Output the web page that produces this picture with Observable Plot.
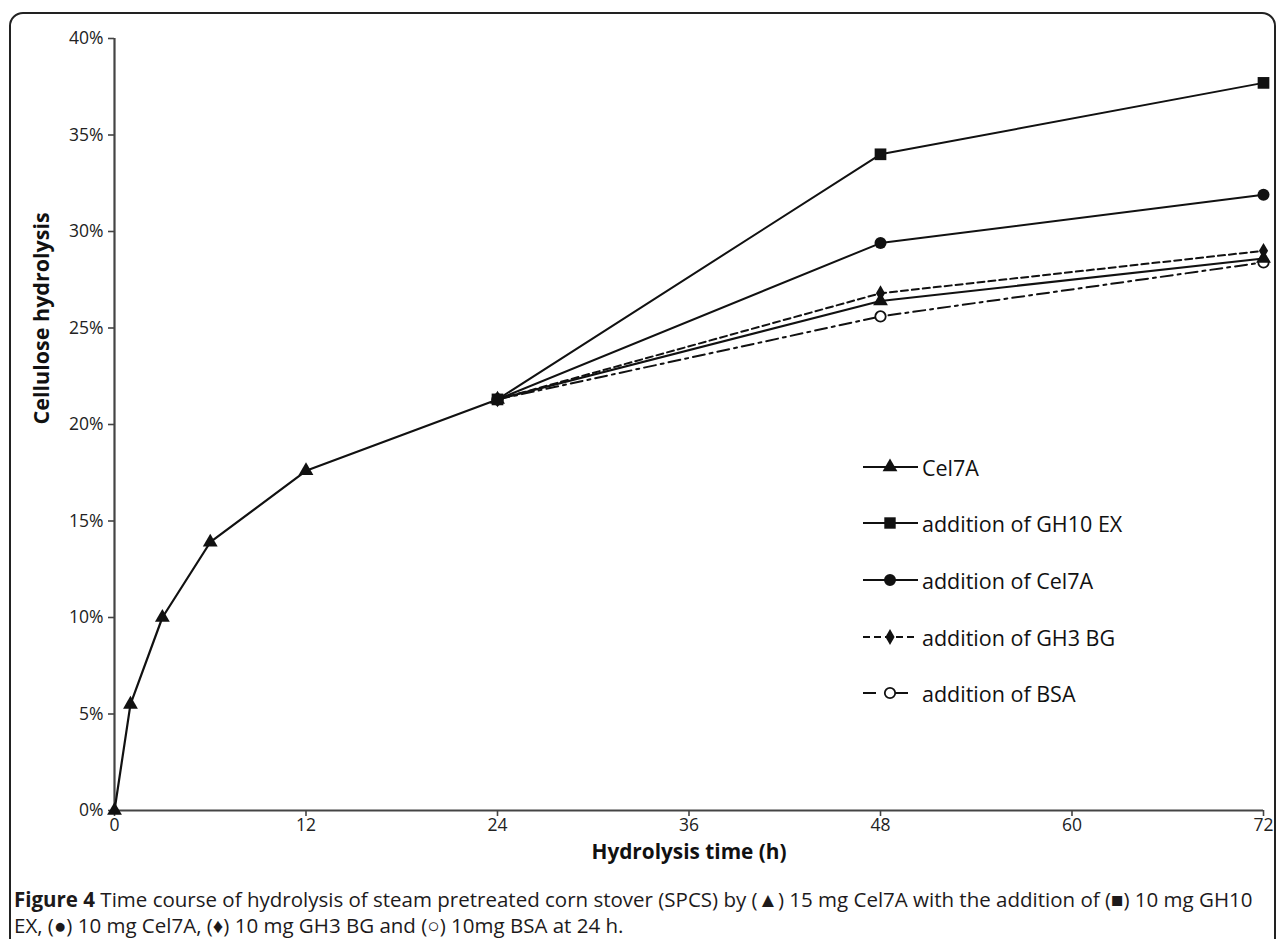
<!DOCTYPE html>
<html>
<head>
<meta charset="utf-8">
<script src="https://cdn.jsdelivr.net/npm/d3@7"></script>
<script src="https://cdn.jsdelivr.net/npm/@observablehq/plot@0.6"></script>
<style>
  html, body { margin: 0; padding: 0; background: #fff; }
  body { width: 1282px; height: 939px; overflow: hidden; position: relative; font-family: "Open Sans", sans-serif; }
  #frame { position: absolute; left: 9px; top: 12px; width: 1267px; height: 960px; border: 2px solid #222; border-radius: 14px; box-sizing: border-box; }
  #chart { position: absolute; left: 0; top: 0; }
  #chart g[aria-label$="tick label"] { font-size: 17.5px !important; }
  #legend { position: absolute; left: 862px; top: 0; }
  .row { position: absolute; left: 0; height: 28px; display: flex; align-items: center; white-space: nowrap; font-family: "Open Sans", sans-serif; font-size: 21.5px; color: #111; }
  .row svg { margin-right: 2px; }
  #caption { position: absolute; left: 14px; top: 886px; font-family: "Open Sans", sans-serif; font-size: 20.5px; line-height: 26px; color: #1d1a1b; white-space: nowrap; }
</style>
</head>
<body>
<div id="frame"></div>
<div id="chart"></div>
<div id="legend"></div>
<div id="caption"><b>Figure 4</b> Time course of hydrolysis of steam pretreated corn stover (SPCS) by (▲) 15 mg Cel7A with the addition of (■) 10 mg GH10<br>EX, (●) 10 mg Cel7A, (♦) 10 mg GH3 BG and (○) 10mg BSA at 24 h.</div>
<script>
// Data
const times = [0, 1, 3, 6, 12, 24, 48, 72];
const cel7a = [0, 0.055, 0.100, 0.139, 0.176, 0.213, 0.264, 0.286];
const addTimes = [24, 48, 72];
const addGH10 = [0.213, 0.340, 0.377];
const addCel7A = [0.213, 0.294, 0.319];
const addGH3 = [0.213, 0.268, 0.290];
const addBSA = [0.213, 0.256, 0.284];
const xTicks = [0, 12, 24, 36, 48, 60, 72];
const yTicks = [0, 0.05, 0.10, 0.15, 0.20, 0.25, 0.30, 0.35, 0.40];
const seriesNames = ["Cel7A", "addition of GH10 EX", "addition of Cel7A", "addition of GH3 BG", "addition of BSA"];

const mk = (ts, vs) => ts.map((t, i) => ({t, v: vs[i]}));
const dCel7a = mk(times, cel7a);
const dGH10 = mk(addTimes, addGH10);
const dAddCel = mk(addTimes, addCel7A);
const dGH3 = mk(addTimes, addGH3);
const dBSA = mk(addTimes, addBSA);

const lineColor = "#111";
const axisColor = "#444";

const chart = Plot.plot({
  width: 1282,
  height: 875,
  marginLeft: 114,
  marginRight: 19,
  marginTop: 38,
  marginBottom: 65,
  style: {fontFamily: "Open Sans, sans-serif", fontSize: "17.5px", color: "#222", background: "transparent"},
  x: {domain: [0, 72]},
  y: {domain: [0, 0.40]},
  marks: [
    Plot.ruleX([0], {stroke: axisColor, strokeWidth: 2.2}),
    Plot.ruleY([0], {stroke: axisColor, strokeWidth: 2.2}),
    Plot.axisX({ticks: xTicks, tickSize: 6, tickPadding: 2, stroke: axisColor, strokeWidth: 1.6, label: null, fontSize: 17.5}),
    Plot.axisY({ticks: yTicks, tickSize: 6, tickPadding: 5, stroke: axisColor, strokeWidth: 1.6, tickFormat: d3.format(".0%"), label: null, fontSize: 17.5}),
    Plot.text(["Hydrolysis time (h)"], {frameAnchor: "bottom", dy: 48, fontWeight: "bold", fontSize: 20.8, fill: "#111"}),
    Plot.text(["Cellulose hydrolysis"], {frameAnchor: "left", dx: -72, rotate: -90, fontWeight: "bold", fontSize: 21.5, fill: "#111"}),
    // lines
    Plot.line(dBSA, {x: "t", y: "v", stroke: lineColor, strokeWidth: 2, strokeDasharray: "12,5,3,5"}),
    Plot.line(dGH3, {x: "t", y: "v", stroke: lineColor, strokeWidth: 2, strokeDasharray: "7,4"}),
    Plot.line(dAddCel, {x: "t", y: "v", stroke: lineColor, strokeWidth: 2}),
    Plot.line(dGH10, {x: "t", y: "v", stroke: lineColor, strokeWidth: 2}),
    Plot.line(dCel7a, {x: "t", y: "v", stroke: lineColor, strokeWidth: 2.2}),
    // markers
    Plot.dot(dBSA, {x: "t", y: "v", symbol: "circle", r: 5.2, fill: "white", stroke: lineColor, strokeWidth: 1.8}),
    Plot.dot(dCel7a, {x: "t", y: "v", symbol: "triangle", r: 5.5, fill: lineColor, stroke: "none"}),
    Plot.dot(dGH3, {x: "t", y: "v", symbol: "diamond", r: 4.8, fill: lineColor, stroke: "none"}),
    Plot.dot(dAddCel, {x: "t", y: "v", symbol: "circle", r: 6, fill: lineColor, stroke: "none"}),
    Plot.dot(dGH10, {x: "t", y: "v", symbol: "square", r: 6.6, fill: lineColor, stroke: "none"})
  ]
});
document.getElementById("chart").appendChild(chart);

// Legend
const legendRows = [
  {name: seriesNames[0], dash: null, sym: d3.symbolTriangle, size: 95, fill: lineColor, y: 467},
  {name: seriesNames[1], dash: null, sym: d3.symbolSquare, size: 130, fill: lineColor, y: 523},
  {name: seriesNames[2], dash: null, sym: d3.symbolCircle, size: 113, fill: lineColor, y: 580},
  {name: seriesNames[3], dash: "7,4", sym: d3.symbolDiamond, size: 72, fill: lineColor, y: 637},
  {name: seriesNames[4], dash: "13,19,13,30", sym: d3.symbolCircle, size: 85, fill: "white", y: 693}
];
const legend = document.getElementById("legend");
for (const r of legendRows) {
  const row = document.createElement("div");
  row.className = "row";
  row.style.top = (r.y - 14) + "px";
  const svg = d3.create("svg").attr("width", 58).attr("height", 28);
  svg.append("line").attr("x1", 1).attr("x2", 56).attr("y1", 14).attr("y2", 14)
    .attr("stroke", lineColor).attr("stroke-width", 2.2).attr("stroke-dasharray", r.dash);
  svg.append("path").attr("d", d3.symbol(r.sym, r.size)()).attr("transform", "translate(28,14)")
    .attr("fill", r.fill).attr("stroke", r.fill === "white" ? lineColor : "none").attr("stroke-width", 1.8);
  row.appendChild(svg.node());
  const span = document.createElement("span");
  span.textContent = r.name;
  row.appendChild(span);
  legend.appendChild(row);
}
</script>
</body>
</html>
